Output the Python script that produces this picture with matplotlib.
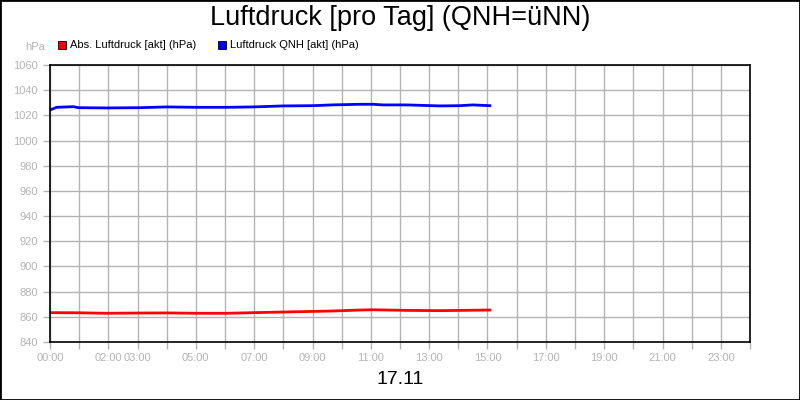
import matplotlib
matplotlib.use('Agg')
import matplotlib.pyplot as plt
from matplotlib.patches import Rectangle

plt.rcParams['font.family'] = ['Liberation Sans', 'DejaVu Sans']

# data (hours of the day, hPa)
blue_t = [0, 0.23, 0.8, 0.97, 1.94, 3.09, 4.0, 5.03, 6.06, 6.97, 8.0, 9.03, 9.66,
          10.63, 11.08, 11.43, 12.23, 13.37, 14.06, 14.5, 15.08]
blue_v = [1024.3, 1026.4, 1026.9, 1026.1, 1025.9, 1026.1, 1026.7, 1026.4, 1026.4,
          1026.7, 1027.5, 1027.7, 1028.3, 1028.8, 1028.8, 1028.3, 1028.3, 1027.5,
          1027.7, 1028.3, 1027.7]
red_t = [0, 1.0, 1.94, 3.09, 4.0, 5.03, 6.06, 6.97, 8.0, 9.03, 9.66, 10.63, 11.08,
         12.23, 13.37, 14.06, 15.08]
red_v = [863.3, 863.2, 862.8, 863.0, 863.1, 862.8, 862.8, 863.3, 863.8, 864.3, 864.6,
         865.4, 865.6, 865.1, 864.9, 865.1, 865.4]

x_labels = {0: '00:00', 2: '02:00', 3: '03:00', 5: '05:00', 7: '07:00', 9: '09:00',
            11: '11:00', 13: '13:00', 15: '15:00', 17: '17:00', 19: '19:00',
            21: '21:00', 23: '23:00'}
y_ticks = list(range(840, 1061, 20))

grey = '#b4b4b4'
fig = plt.figure(figsize=(8, 4), dpi=100)
ax = fig.add_axes([50/800, 1 - 342/400, 700/800, 277/400])

ax.plot(red_t, red_v, color='#ff0000', lw=2)
ax.plot(blue_t, blue_v, color='#0000ff', lw=2)

ax.set_xlim(0, 24)
ax.set_ylim(840, 1060)
ax.set_xticks(range(0, 25))
ax.set_xticklabels([x_labels.get(h, '') for h in range(0, 25)])
ax.set_yticks(y_ticks)
ax.grid(True, color=grey, lw=1)
ax.tick_params(colors=grey, labelcolor=grey, labelsize=8, length=5, width=1)
ax.tick_params(axis='x', pad=3)
for s in ax.spines.values():
    s.set_color('black')
    s.set_linewidth(1.2)

fig.text(0.5, 1 - 18/400, 'Luftdruck [pro Tag] (QNH=üNN)', ha='center', va='center',
         fontsize=19.5)
fig.text(0.5, 1 - 380/400, '17.11', ha='center', va='center', fontsize=14)
fig.text(45/800, 1 - 47/400, 'hPa', ha='right', va='center', fontsize=8, color=grey)

# legend
fig.patches.append(Rectangle((58/800, 1 - 49/400), 8/800, 8/400, transform=fig.transFigure,
                             facecolor='#ff0000', edgecolor='black', lw=0.6))
fig.text(70/800, 1 - 45/400, 'Abs. Luftdruck [akt] (hPa)', va='center', fontsize=8)
fig.patches.append(Rectangle((218/800, 1 - 49/400), 8/800, 8/400, transform=fig.transFigure,
                             facecolor='#0000ff', edgecolor='black', lw=0.6))
fig.text(230/800, 1 - 45/400, 'Luftdruck QNH [akt] (hPa)', va='center', fontsize=8)

fig.patches.append(Rectangle((0, 0), 1, 1, transform=fig.transFigure, fill=False,
                             edgecolor='black', lw=2))

fig.savefig('out.png', dpi=100)
